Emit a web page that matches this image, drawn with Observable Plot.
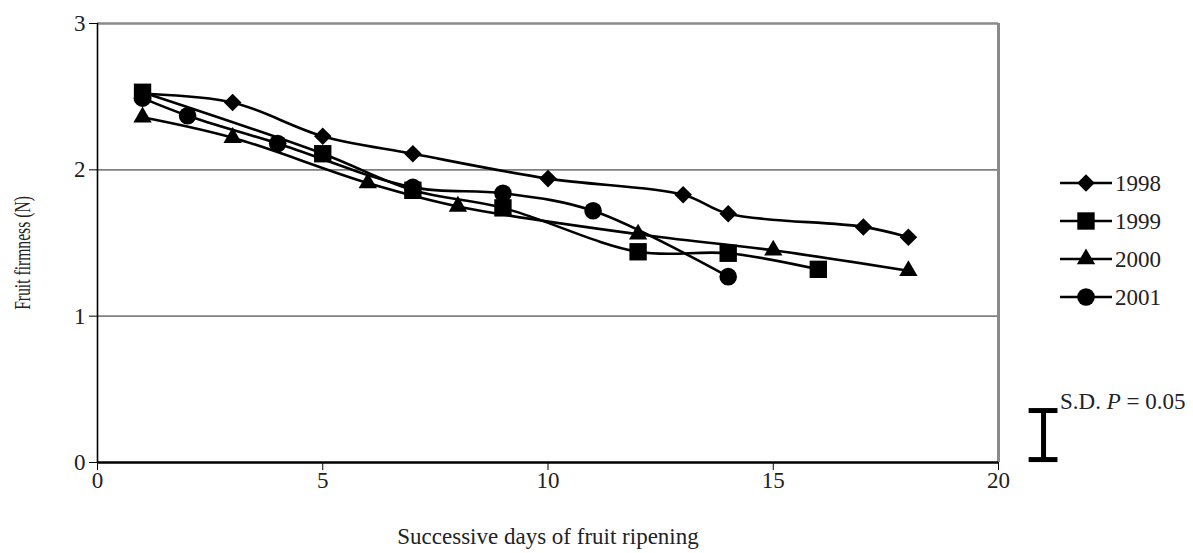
<!DOCTYPE html>
<html><head><meta charset="utf-8">
<script src="https://cdn.jsdelivr.net/npm/d3@7"></script>
<script src="https://cdn.jsdelivr.net/npm/@observablehq/plot@0.6"></script>
<style>
body{margin:0;background:#fff}
#wrap{position:relative;width:1193px;height:553px}
#wrap svg{position:absolute;left:0;top:0}
#wrap svg text{font-family:'Liberation Serif','Times New Roman',serif}
</style>
</head><body><div id="wrap"></div>
<script>
// ---- data ----
const years = ["1998", "1999", "2000", "2001"];
const days1998 = [1, 3, 5, 7, 10, 13, 14, 17, 18];
const firm1998 = [2.52, 2.46, 2.23, 2.11, 1.94, 1.83, 1.70, 1.61, 1.54];
const days1999 = [1, 5, 7, 9, 12, 14, 16];
const firm1999 = [2.53, 2.11, 1.86, 1.74, 1.44, 1.43, 1.32];
const days2000 = [1, 3, 6, 8, 12, 15, 18];
const firm2000 = [2.36, 2.22, 1.91, 1.75, 1.56, 1.45, 1.31];
const days2001 = [1, 2, 4, 7, 9, 11, 14];
const firm2001 = [2.49, 2.37, 2.18, 1.88, 1.84, 1.72, 1.27];
const xTicks = [0, 5, 10, 15, 20];
const yTicks = [0, 1, 2, 3];
const sdDay = 21;          // position of the S.D. bar (beyond the last day)
const sdLow = 0.02;
const sdHigh = 0.355;
const xTitle = "Successive days of fruit ripening";
const yTitle = "Fruit firmness (N)";

// ---- styles ----
const FONT = "'Liberation Serif','Times New Roman',serif";
const symbols = {"1998": "diamond2", "1999": "square", "2000": "triangle", "2001": "circle"};
const radii = {"1998": 7.9, "1999": 9.8, "2000": 6.8, "2001": 8.8};
const d3sym = {"1998": d3.symbolDiamond2, "1999": d3.symbolSquare, "2000": d3.symbolTriangle, "2001": d3.symbolCircle};

const seriesDays = {"1998": days1998, "1999": days1999, "2000": days2000, "2001": days2001};
const seriesFirm = {"1998": firm1998, "1999": firm1999, "2000": firm2000, "2001": firm2001};
const rows = years.map(y => seriesDays[y].map((d, i) => ({year: y, day: d, firm: seriesFirm[y][i]})));

const marks = [
  Plot.gridY([1, 2], {stroke: "#808080", strokeOpacity: 1, strokeWidth: 1.6}),
  Plot.ruleY([3], {stroke: "#8a8a8a", strokeWidth: 2.6}),
  Plot.ruleX([20], {stroke: "#8a8a8a", strokeWidth: 3}),
  Plot.ruleX([0], {stroke: "#000", strokeWidth: 1.6}),
  Plot.ruleY([0], {stroke: "#000", strokeWidth: 2.5}),
  Plot.axisX({ticks: xTicks, tickFormat: d3.format("d"), tickSize: 8, tickPadding: 1, label: null, fontSize: 23, fontFamily: FONT, stroke: "#000", fill: "#222"}),
  Plot.axisY({ticks: yTicks, tickFormat: d3.format("d"), tickSize: 8, tickPadding: 4, label: null, fontSize: 23, fontFamily: FONT, stroke: "#000", fill: "#222"})
];
rows.forEach((data) => {
  marks.push(Plot.line(data, {x: "day", y: "firm", curve: "catmull-rom", stroke: "#000", strokeWidth: 2.6}));
});
rows.forEach((data, k) => {
  const y = years[k];
  marks.push(Plot.dot(data, {x: "day", y: "firm", symbol: () => symbols[y], r: radii[y], fill: "#000", stroke: "none"}));
});
// S.D. bar drawn on the y scale
marks.push(Plot.ruleX([sdDay], {y1: sdLow, y2: sdHigh, stroke: "#000", strokeWidth: 5}));
marks.push(Plot.ruleY([sdLow, sdHigh], {x1: sdDay - 0.32, x2: sdDay + 0.32, stroke: "#000", strokeWidth: 5}));
// axis titles
marks.push(Plot.text([xTitle], {frameAnchor: "bottom", dy: 74, fontSize: 23, fontFamily: FONT, fill: "#222", lineAnchor: "middle", textAnchor: "middle"}));
marks.push(Plot.text([yTitle], {frameAnchor: "left", rotate: -90, dx: -75, dy: 10, fontSize: 23, fontFamily: FONT, fill: "#222", lineAnchor: "middle", textAnchor: "middle"}));

const chart = Plot.plot({
  width: 1193,
  height: 553,
  marginLeft: 97,
  marginRight: 195,
  marginTop: 23,
  marginBottom: 91,
  style: {fontFamily: FONT, fontSize: "23px", color: "#000", background: "#fff", overflow: "visible"},
  x: {domain: [0, 20]},
  y: {domain: [0, 3]},
  marks
});
const wrap = document.getElementById("wrap");
wrap.appendChild(chart);

// the reference's vertical title is compressed along its length
d3.select(chart).selectAll("text").filter(function() { return this.textContent === yTitle; })
  .each(function() {
    const t = d3.select(this);
    t.attr("transform", (t.attr("transform") || "") + " scale(0.68,1)");
  });

// ---- legend and S.D. label overlay ----
const ov = d3.select(wrap).append("svg").attr("width", 1193).attr("height", 553)
  .style("font-family", FONT).style("font-size", "23px");
const legY0 = 183, legStep = 38;
years.forEach((y, i) => {
  const cy = legY0 + i * legStep;
  const g = ov.append("g").attr("transform", `translate(0,${cy})`);
  g.append("line").attr("x1", 1060).attr("x2", 1112).attr("y1", 0).attr("y2", 0).attr("stroke", "#000").attr("stroke-width", 2.6);
  g.append("path").attr("transform", "translate(1086,0)")
    .attr("d", d3.symbol(d3sym[y], Math.PI * radii[y] * radii[y])()).attr("fill", "#000");
  g.append("text").attr("x", 1115).attr("y", 0).attr("dy", "0.35em").attr("fill", "#222").text(y);
});
const sd = ov.append("text").attr("x", 1060).attr("y", 409).attr("fill", "#222");
sd.append("tspan").text("S.D. ");
sd.append("tspan").attr("font-style", "italic").text("P");
sd.append("tspan").text(" = 0.05");
</script>
</body></html>
